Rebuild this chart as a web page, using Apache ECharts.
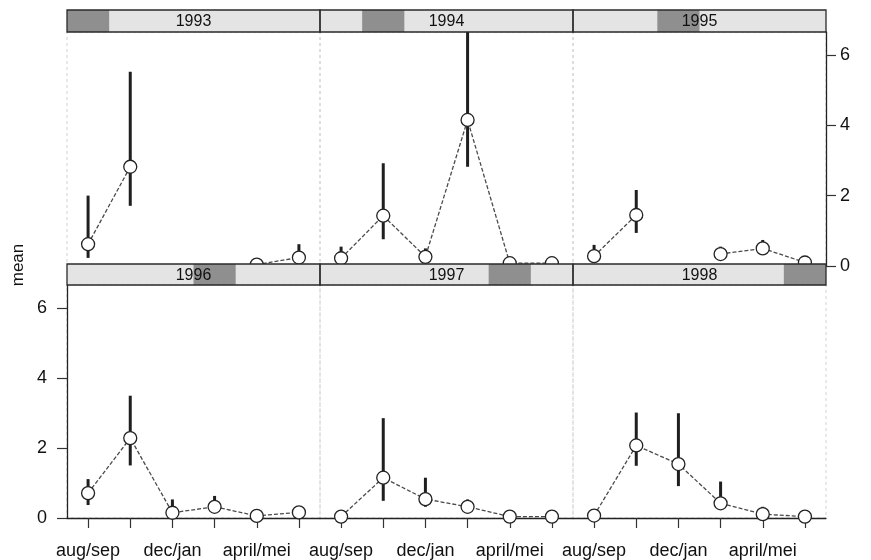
<!DOCTYPE html>
<html>
<head>
<meta charset="utf-8">
<script src="https://cdn.jsdelivr.net/npm/echarts@6/dist/echarts.min.js"></script>
<style>
html,body{margin:0;padding:0;background:#fff;}
#chart{width:871px;height:560px;}
</style>
</head>
<body>
<div id="chart"></div>
<script>
// ---- data ----
const periods = ['aug/sep', '', 'dec/jan', '', 'april/mei', ''];
const years = ['1993', '1994', '1995', '1996', '1997', '1998'];
const yTicks = [0, 2, 4, 6];

const mean1993 = [0.62, 2.82, null, null, 0.04, 0.24];
const hi1993   = [2.00, 5.52, null, null, 0.10, 0.62];
const lo1993   = [0.23, 1.71, null, null, 0.00, 0.10];

const mean1994 = [0.22, 1.43, 0.26, 4.15, 0.08, 0.08];
const hi1994   = [0.55, 2.92, 0.50, 6.90, 0.12, 0.12];
const lo1994   = [0.10, 0.76, 0.15, 2.82, 0.00, 0.00];

const mean1995 = [0.28, 1.45, null, 0.34, 0.50, 0.10];
const hi1995   = [0.60, 2.16, null, 0.55, 0.74, 0.15];
const lo1995   = [0.15, 0.94, null, 0.20, 0.35, 0.05];

const mean1996 = [0.71, 2.28, 0.15, 0.32, 0.06, 0.16];
const hi1996   = [1.11, 3.49, 0.53, 0.63, 0.10, 0.20];
const lo1996   = [0.37, 1.50, 0.05, 0.20, 0.02, 0.10];

const mean1997 = [0.04, 1.15, 0.54, 0.32, 0.04, 0.04];
const hi1997   = [0.08, 2.85, 1.15, 0.53, 0.08, 0.08];
const lo1997   = [0.00, 0.49, 0.32, 0.20, 0.00, 0.00];

const mean1998 = [0.07, 2.07, 1.54, 0.42, 0.11, 0.04];
const hi1998   = [0.10, 3.01, 2.99, 1.04, 0.32, 0.08];
const lo1998   = [0.03, 1.49, 0.91, 0.30, 0.03, 0.00];

const means = [mean1993, mean1994, mean1995, mean1996, mean1997, mean1998];
const his = [hi1993, hi1994, hi1995, hi1996, hi1997, hi1998];
const los = [lo1993, lo1994, lo1995, lo1996, lo1997, lo1998];

// ---- layout ----
const FONT = '"Liberation Sans", Arial, sans-serif';
const colLeft = [67, 320, 573];
const colW = 253;
const rowGridTop = [32, 285];
const rowGridH = [234, 233];
const stripTop = [10, 264];
const stripH = [22, 21];
const YMAX = 6.65;

const chart = echarts.init(document.getElementById('chart'));

const grids = [], xAxes = [], yAxes = [], series = [], graphics = [];

for (let p = 0; p < 6; p++) {
  const row = p < 3 ? 0 : 1;
  const col = p % 3;
  grids.push({
    left: colLeft[col], top: rowGridTop[row], width: colW, height: rowGridH[row],
    show: true, borderColor: '#d2d2d2', borderWidth: 1,
    borderType: [3, 3], backgroundColor: 'transparent'
  });
  const showX = row === 1;
  xAxes.push({
    type: 'category', gridIndex: p, data: periods, boundaryGap: true,
    show: showX,
    axisLine: { show: showX, lineStyle: { color: '#222', width: 1.3 } },
    axisTick: { show: showX, alignWithLabel: true, interval: 0, length: 10, lineStyle: { color: '#333', width: 1.2 } },
    axisLabel: { show: showX, interval: 0, margin: 24, fontFamily: FONT, fontSize: 18, color: '#111' },
    splitLine: { show: false }
  });
  const showY = (row === 0 && col === 2) || (row === 1 && col === 0);
  yAxes.push({
    type: 'value', gridIndex: p, min: 0, max: YMAX,
    position: row === 0 ? 'right' : 'left',
    show: showY,
    axisLine: { show: showY, lineStyle: { color: '#222', width: 1.3 } },
    axisTick: { show: showY, length: 10, customValues: yTicks, lineStyle: { color: '#333', width: 1.2 } },
    axisLabel: { show: showY, customValues: yTicks, margin: row === 0 ? 14 : 20, fontFamily: FONT, fontSize: 18, color: '#111' },
    splitLine: { show: false }
  });

  const m = means[p], hi = his[p], lo = los[p];
  const errData = [];
  for (let i = 0; i < m.length; i++) {
    if (m[i] !== null) errData.push([i, lo[i], hi[i]]);
  }
  series.push({
    type: 'custom', xAxisIndex: p, yAxisIndex: p, z: 1,
    data: errData,
    clip: true,
    renderItem: function (params, api) {
      const x = api.value(0);
      const a = api.coord([x, api.value(1)]);
      const b = api.coord([x, api.value(2)]);
      return {
        type: 'line',
        shape: { x1: a[0], y1: a[1], x2: b[0], y2: b[1] },
        style: { stroke: '#1f1f1f', lineWidth: 3 }
      };
    }
  });
  series.push({
    type: 'line', xAxisIndex: p, yAxisIndex: p, z: 3,
    data: m,
    connectNulls: false,
    symbol: 'circle', symbolSize: 13, showAllSymbol: true,
    lineStyle: { color: '#4a4a4a', width: 1.3, type: [4, 2] },
    itemStyle: { color: '#fff', borderColor: '#222', borderWidth: 1.3 },
    emphasis: { disabled: true },
    animation: false
  });

  // strip
  const sx = colLeft[col], sy = stripTop[row], sh = stripH[row];
  graphics.push({
    type: 'group', z: 100,
    children: [
      { type: 'rect', shape: { x: sx, y: sy, width: colW, height: sh }, style: { fill: '#e4e4e4' }, z: 100 },
      { type: 'rect', shape: { x: sx + p * colW / 6, y: sy, width: colW / 6, height: sh }, style: { fill: '#8f8f8f' }, z: 101 },
      { type: 'rect', shape: { x: sx, y: sy, width: colW, height: sh }, style: { fill: 'none', stroke: '#2a2a2a', lineWidth: 1.3 }, z: 102 },
      { type: 'text', x: sx + colW / 2, y: sy + sh / 2 + 1, z: 103,
        style: { text: years[p], fontFamily: FONT, fontSize: 16, fill: '#111', align: 'center', verticalAlign: 'middle' } }
    ]
  });
}

graphics.push({
  type: 'text', x: 18, y: 265, rotation: Math.PI / 2, z: 100,
  style: { text: 'mean', fontFamily: FONT, fontSize: 17, fill: '#111', align: 'center', verticalAlign: 'middle' }
});

chart.setOption({
  backgroundColor: '#fff',
  animation: false,
  grid: grids,
  xAxis: xAxes,
  yAxis: yAxes,
  series: series,
  graphic: graphics
});
</script>
</body>
</html>
